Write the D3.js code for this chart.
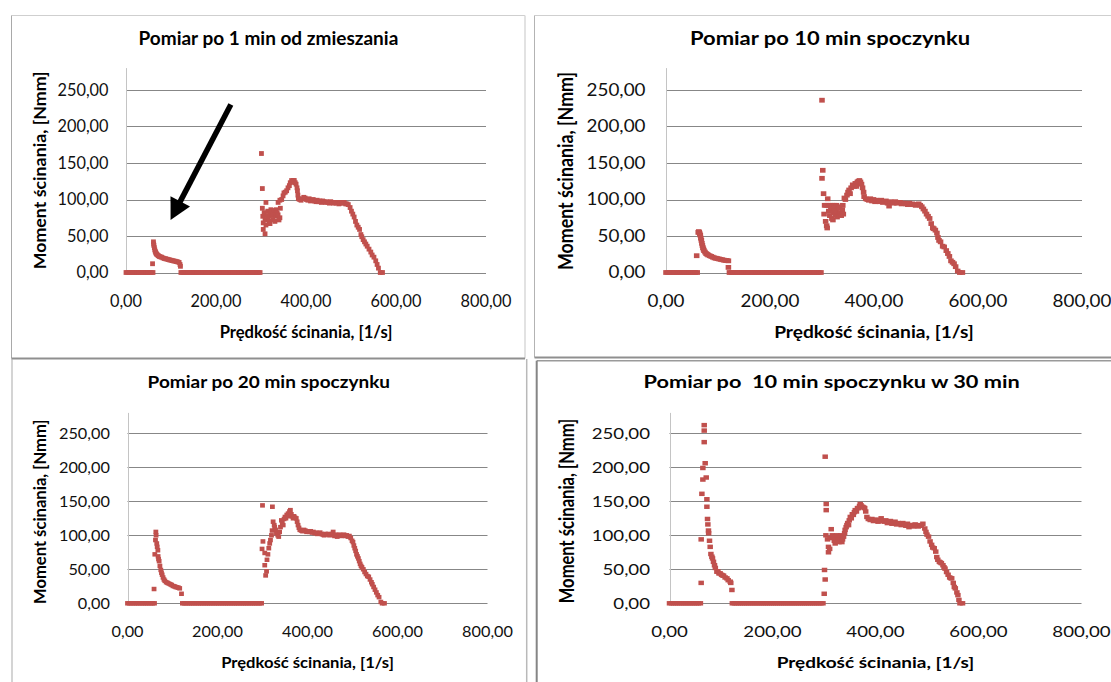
<!DOCTYPE html>
<html>
<head>
<meta charset="utf-8">
<script src="https://cdn.jsdelivr.net/npm/d3@7"></script>
<style>
  html, body { margin: 0; padding: 0; background: #fff; }
  svg { display: block; }
  text { font-family: Lato, "Open Sans", "DejaVu Sans", sans-serif; }
</style>
</head>
<body>
<svg id="chart" width="1111" height="682"></svg>
<script>
// Shear rates [1/s] where the torque stayed at zero (same ramp for every run)
const zeroRates = [0, 4, 8, 12, 16, 20, 24, 28, 32, 36, 40, 44, 48, 52, 56, 60,
  122, 126, 130, 134, 138, 142, 146, 150, 154, 158, 162, 166, 170, 174, 178, 182,
  186, 190, 194, 198, 202, 206, 210, 214, 218, 222, 226, 230, 234, 238, 242, 246,
  250, 254, 258, 262, 266, 270, 274, 278, 282, 286, 290, 294, 298];

// [shear rate 1/s, torque Nmm] — measurement 1 min after mixing
const torque1min = [
  [59,12],[61,42],[61.5,39],[62,37],[63,34],[64,31],[65,29],[66,27.5],[67,26],[68,25],
  [70,24],[72,23],[74,22],[76,21.5],[79,21],[82,20],[85,19.2],[88,18.8],[91,18.3],[94,17.8],
  [97,17.2],[100,16.8],[103,16.3],[106,15.8],[109,15.5],[112,15],[115,14.5],[118,13.8],[120,11],[121,8.5],
  [301,163],[303,115],[303,88],[304,77],[305,68],[305,59],[309,53],[311,96],
  [307,82],[309,72],[311,65],[313,78],[315,84],[316,75],[318,70],[320,67],[320,80],[322,86],
  [324,78],[326,72],[327,80],[329,85],[331,70],[333,77],[334,86],[336,81],[338,79],[340,72],[342,75],[343,88],
  [338,96],[342,99],[346,100],[349,105],[351,109],[354,110],[357,112],[360,116],[363,119],[365,123],
  [368,126],[370,124],[372,126],[374,126],[376,123],[378,121],[380,116],[381,112],[382,106],[383,101],[386,100],[389,99],
  [392,101],[395,103],[398,102],[401,100],[404,99],[407,101],[410,98],[413,99],[416,100],[419,98],
  [422,97],[425,99],[428,97],[431,98],[434,96],[437,98],[440,97],[443,96],[446,97],[449,96],
  [452,95],[455,97],[458,96],[461,95],[464,96],[467,95],[470,96],[473,94],[476,95],[479,96],
  [482,95],[485,96],[488,94],[491,94],[494,93],
  [498,89],[501,84],[504,80],[507,76],[510,70],[513,65],[516,62],[519,59],[522,52],[524,49],
  [527,45],[530,42],[533,39],[536,36],[540,32],[544,28],[547,24],[551,21],[555,16],[558,11],
  [561,6],[565,0],[570,0]
];

// after 10 min of rest
const torque10min = [
  [59,23],[62,55],[63,56],[64,55],[65,53],[66,51],[67,47],[68,44],[69,40],[70,37],[71,34],[72,32],
  [73,30],[75,28],[77,26],[79,25],[81,24],[84,23],[87,22],[90,21],[93,20],[96,19.5],[99,19],
  [102,18.5],[105,18],[108,17.5],[111,17],[114,16.5],[117,16.5],[120,16],[120,7],
  [300,236],[301.5,140],[300,129],[303,108],[305,92],[304,80],[307,70],[309,64],[310,61],[311,101],
  [308,92],[312,92],[316,92],[320,92],[324,92],[328,92],
  [313,84],[315,78],[317,86],[319,74],[321,72],[322,82],[324,88],[326,79],[327,84],[329,76],
  [331,90],[333,80],[334,88],[336,82],[337,78],[339,86],[340,92],[341,80],
  [343,102],[345,100],[348,106],[350,110],[352,113],[354,108],[356,116],[359,120],[362,118],[364,122],
  [366,118],[368,124],[370,125],[372,126],[374,124],[376,121],[378,116],[380,110],[381,104],[384,101],[387,100],
  [390,99],[393,101],[396,98],[399,100],[402,97],[405,99],[408,98],[411,97],[414,99],[417,96],
  [420,97],[423,98],[426,95],[429,91],[432,97],[435,96],[438,95],[441,97],[444,95],[447,96],
  [450,96],[453,94],[456,95],[459,95],[462,94],[465,93],[468,95],[471,93],[474,94],[477,93],
  [480,92],[483,93],[486,94],[489,92],
  [492,90],[495,87],[498,84],[501,80],[504,77],[507,74],[510,67],[513,61],[515,60],[518,58],
  [521,54],[523,48],[525,44],[528,42],[532,36],[535,35],[539,30],[542,26],[545,22],[548,16],
  [551,14],[554,12],[557,8],[561,2],[565,0],[570,0]
];

// after 20 min of rest
const torque20min = [
  [59,21],[60.7,72],[62.2,93],[63,105],[63.5,100],[65,88],[66,83],[67.5,78],[68,69],[69,65],
  [70.3,62],[72,55],[74,49],[75.5,45],[77,42],[79,38],[81,35],[83,33],[86,31],[89,30],
  [92,29],[95,28],[98,27],[101,25.5],[104,25],[107,24],[110,23.5],[113,23],[116,22],[120,14],
  [300,144],[322,142],[301,91],[299,80],[305,74],[305,56],[309,47],[307,41],[310,64],[312,72],
  [314,81],[316,88],[317.7,93],[320,100],[321.4,107],[323.6,120],[326,115],[327,112],[329,108],[331,103],
  [334,100],[336,98],[338,105],[340,112],[342,122],[344,118],[346,115],[348,124],[350,127],[352,125],
  [354,130],[357,132],[359,128],[360,135],[362,137],[364,131],[366,128],[368,125],[370,128],[372,126],
  [375,125],[377,120],[379,115],[381,111],[383,108],
  [386,107],[389,106],[392,108],[395,107],[398,105],[401,106],[404,105],[407,106],[410,104],[413,105],
  [416,103],[419,104],[422,102],[425,103],[428,104],[431,102],[434,101],[437,100],[440,102],[443,101],
  [446,102],[449,100],[452,101],[455,102],[457,105],[460,99],[463,101],[466,98],[469,100],[472,101],
  [475,99],[478,100],[481,101],[484,99],[487,100],[490,98],[493,99],[496,96],
  [499,92],[501,90],[503,85],[505,81],[507,77],[509,72],[511,69],[513,66],[515,62],[517,58],
  [519,55],[521,53],[524,50],[527,46],[530,43],[533,40],[536,39],[539,35],[542,31],[544,28],
  [547,24],[550,20],[553,16],[556,12],[559,9],[563,2],[566,0],[571,0]
];

// after 10 min of rest, 30 min from mixing
const torque30min = [
  [61.5,30],[61.5,94],[62.9,161],[64.8,182],[64.8,199],[67.4,237],[67.4,254],[67.4,262],[69.3,206],[71.3,185],
  [72.6,153],[72.6,142],[73.8,124],[74.5,116],[75.7,107],[76,103],[77.7,92],[79,83],[80.4,72.5],[82.3,68.5],
  [83.5,66],[85.4,61],[87.4,56],[89,52],[92,46.5],[94,47],[96,44],[98.4,44],[101,42],[103,41],
  [105,40.6],[108,38],[111.5,36.7],[114,34],[117.9,31.8],[119,30],[121.2,19.6],
  [302.3,215.6],[304.3,146],[304.3,137],[301,49],[302.3,35],[300.4,14],[303.7,100],[306.8,94],[308.7,83],[308.7,75],
  [311,80],[312,96],[314,109],[316,100],[318.4,98],[320,92],[321.7,88],[323,95],[325,100],[327,93],
  [329,90],[331.5,96],[333,100],[334.7,90],[336,94],[338,98],[340,103],[341,108],[343,112],[344.5,115],
  [346,118],[347.7,115],[349,122],[351,127],[353,125],[355,131],[357,130],[359,134],[360.6,137],[363,135],
  [365,140],[367,140],[369,143],[370.3,146],[372,144],[374.8,142],[377,141],[379,140],[381,135],[383.3,127],
  [386,124],[389.7,122.5],
  [393,124],[396,121],[399,122.5],[402,123],[405,120],[408,122],[411,125],[414,121],[417,120],[420,122],
  [423,118],[426,120],[429,121],[432,117],[435,119],[438,120],[441,116],[444,118],[447,117],[450,115],
  [453,118],[456,116],[459,114],[462,117],[465,112],[468,115],[471,115],[474,113],[477,116],[480,114],
  [483,113],[486,115],[489,114],[492,117],
  [495.7,110],[498,105],[500,101],[503,98],[506,91],[509,86],[511,82],[514,81],[517,76],[519,68],
  [521,64],[524,61],[526,60],[528,59],[531,56],[533,53],[535,51],[538,46],[541,42],[544,38],
  [546,37],[548,36.7],[551,30],[553,24],[555,22],[558,16],[560,12],[562,5],[564,0],[569,0]
];

const chartTitles = [
  "Pomiar po 1 min od zmieszania",
  "Pomiar po 10 min spoczynku",
  "Pomiar po 20 min spoczynku",
  "Pomiar po  10 min spoczynku w 30 min"
];
const xTicks = [0, 200, 400, 600, 800];
const yTicks = [0, 50, 100, 150, 200, 250];
const xLabel = "Prędkość ścinania, [1/s]";
const yLabel = "Moment ścinania, [Nmm]";

// Arrow pointing at the first peak of the 1-min run (data coordinates)
const arrowFrom = [233, 230];
const arrowTo = [99, 72];

// Page layout of the four chart frames
const frames = [
  { x0: 126,   x1: 486,    y0: 272.5, y250: 90,    sx: 1,     sy: 1,
    titleX: 268.4, titleY: 45,    tickGap: 17.5, xTickY: 307.3, xTitleY: 337.5, yTitleX: 46,  yTitleY: 170.3 },
  { x0: 666,   x1: 1082,   y0: 272.5, y250: 90,    sx: 1.156, sy: 1,
    titleX: 830,   titleY: 45,    tickGap: 20.5, xTickY: 307.3, xTitleY: 337.5, yTitleX: 573, yTitleY: 171 },
  { x0: 127.5, x1: 487.5,  y0: 603.3, y250: 433.3, sx: 1,     sy: 0.932,
    titleX: 268.8, titleY: 388.3, tickGap: 17.6, xTickY: 636.5, xTitleY: 668,   yTitleX: 46,  yTitleY: 511.7 },
  { x0: 669.5, x1: 1081.5, y0: 603.3, y250: 433.3, sx: 1.144, sy: 0.932,
    titleX: 831.6, titleY: 388.3, tickGap: 19.5, xTickY: 636.5, xTitleY: 668,   yTitleX: 574, yTitleY: 511 }
];
const series = [torque1min, torque10min, torque20min, torque30min];

// Frame outlines (drawn as separate edges)
const edges = [
  { x1: 11.5, y1: 15.5, x2: 525, y2: 15.5, c: "#cfcfcf", w: 1 },
  { x1: 11.5, y1: 15.5, x2: 11.5, y2: 358.5, c: "#a9a9a9", w: 1 },
  { x1: 525, y1: 15.5, x2: 525, y2: 358.5, c: "#d9d9d9", w: 1.5 },
  { x1: 11.5, y1: 358.5, x2: 525, y2: 358.5, c: "#8f8f8f", w: 2 },
  { x1: 534.5, y1: 15.5, x2: 1111, y2: 15.5, c: "#cfcfcf", w: 1 },
  { x1: 534.5, y1: 15.5, x2: 534.5, y2: 357.5, c: "#b3b3b3", w: 1 },
  { x1: 534.5, y1: 357.5, x2: 1111, y2: 357.5, c: "#8f8f8f", w: 2 },
  { x1: 12, y1: 359, x2: 12, y2: 682, c: "#a9a9a9", w: 1 },
  { x1: 526.7, y1: 359, x2: 526.7, y2: 682, c: "#b9b9b9", w: 1.5 },
  { x1: 536.7, y1: 360.7, x2: 1111, y2: 360.7, c: "#9a9a9a", w: 1.5 },
  { x1: 536.7, y1: 360.7, x2: 536.7, y2: 682, c: "#858585", w: 2 }
];

const plLocale = d3.formatLocale({ decimal: ",", thousands: "\u00a0", grouping: [3], currency: ["", " zł"] });
const fmt = plLocale.format(".2f");

const svg = d3.select("#chart");
svg.append("rect").attr("width", 1111).attr("height", 682).attr("fill", "#fff");

svg.append("g").selectAll("line").data(edges).join("line")
  .attr("x1", d => d.x1).attr("y1", d => d.y1).attr("x2", d => d.x2).attr("y2", d => d.y2)
  .attr("stroke", d => d.c).attr("stroke-width", d => d.w);

const markerColor = "#c0504d";
const markerSize = 4.8;

frames.forEach((f, i) => {
  const perUnit = (f.y0 - f.y250) / 250;
  const x = d3.scaleLinear().domain([0, 800]).range([f.x0, f.x1]);
  const y = d3.scaleLinear().domain([0, 280]).range([f.y0, f.y0 - 280 * perUnit]);
  const g = svg.append("g");
  const stretch = (tx, ty) => `translate(${tx},${ty}) scale(${f.sx},${f.sy})`;

  // horizontal gridlines
  g.append("g").selectAll("line").data(yTicks).join("line")
    .attr("x1", f.x0).attr("x2", f.x1)
    .attr("y1", d => Math.round(y(d)) + 0.5).attr("y2", d => Math.round(y(d)) + 0.5)
    .attr("stroke", "#878787").attr("stroke-width", 1);

  // value axis line
  g.append("line")
    .attr("x1", Math.round(f.x0) + 0.5).attr("x2", Math.round(f.x0) + 0.5)
    .attr("y1", y(280)).attr("y2", y(0))
    .attr("stroke", "#c4c4c4").attr("stroke-width", 1);

  // y tick labels
  g.append("g").selectAll("text").data(yTicks).join("text")
    .attr("transform", d => stretch(f.x0 - f.tickGap, y(d)))
    .attr("dy", "0.36em").attr("text-anchor", "end")
    .attr("font-size", 16.3).attr("fill", "#111")
    .text(d => fmt(d));

  // x tick labels
  g.append("g").selectAll("text").data(xTicks).join("text")
    .attr("transform", d => stretch(x(d), f.xTickY))
    .attr("text-anchor", "middle")
    .attr("font-size", 16.3).attr("fill", "#111")
    .text(d => fmt(d));

  // chart title
  g.append("text")
    .attr("transform", stretch(f.titleX, f.titleY))
    .attr("text-anchor", "middle").attr("font-size", 19).attr("font-weight", 700)
    .attr("fill", "#000").attr("xml:space", "preserve").style("white-space", "pre")
    .text(chartTitles[i]);

  // axis titles
  g.append("text")
    .attr("transform", stretch((f.x0 + f.x1) / 2, f.xTitleY))
    .attr("text-anchor", "middle").attr("font-size", 16.6).attr("font-weight", 700)
    .attr("fill", "#000").text(xLabel);

  g.append("text")
    .attr("transform", stretch(f.yTitleX, f.yTitleY) + " rotate(-90)")
    .attr("text-anchor", "middle").attr("font-size", 17.8).attr("font-weight", 700)
    .attr("fill", "#000").text(yLabel);

  // measured points: zero-torque ramp plus the recorded torque
  const pts = zeroRates.map(r => [r, 0]).concat(series[i]);
  const mw = markerSize * f.sx, mh = markerSize * f.sy;
  g.append("g").selectAll("rect").data(pts).join("rect")
    .attr("x", d => x(d[0]) - mw / 2).attr("y", d => y(d[1]) - mh / 2)
    .attr("width", mw).attr("height", mh)
    .attr("fill", markerColor);

  // annotation arrow on the first chart
  if (i === 0) {
    const [ax, ay] = [x(arrowFrom[0]), y(arrowFrom[1])];
    const [bx, by] = [x(arrowTo[0]), y(arrowTo[1])];
    const len = Math.hypot(bx - ax, by - ay);
    const ux = (bx - ax) / len, uy = (by - ay) / len;
    const headLen = 21, headHalf = 11;
    const baseX = bx - ux * headLen, baseY = by - uy * headLen;
    g.append("line")
      .attr("x1", ax).attr("y1", ay).attr("x2", baseX + ux * 2).attr("y2", baseY + uy * 2)
      .attr("stroke", "#000").attr("stroke-width", 5.5);
    g.append("path")
      .attr("d", d3.line()([
        [bx, by],
        [baseX - uy * headHalf, baseY + ux * headHalf],
        [baseX + uy * headHalf, baseY - ux * headHalf]
      ]) + "Z")
      .attr("fill", "#000");
  }
});
</script>
</body>
</html>
